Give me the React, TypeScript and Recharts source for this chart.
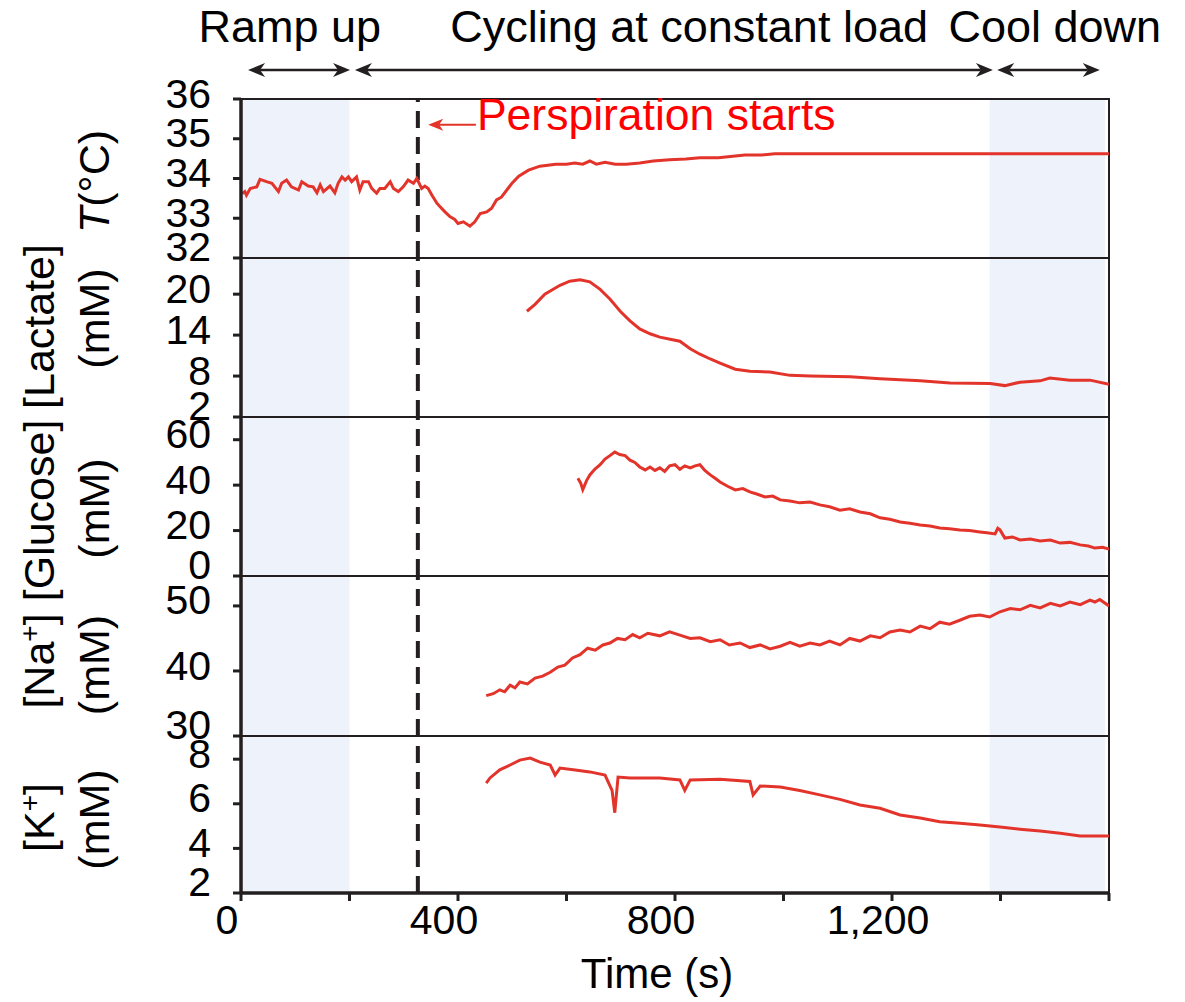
import React from 'react';
import { LineChart, Line, XAxis, YAxis, ReferenceArea, ReferenceLine } from 'recharts';

// ---------- data ----------
const tempTime = [2, 7, 10, 17, 29, 35, 47, 57, 69, 75, 84, 93, 106, 112, 124, 133, 140, 146, 152, 164, 173, 179, 186, 192, 198, 204, 213, 219, 225, 235, 241, 250, 256, 265, 275, 281, 290, 299, 308, 318, 324, 333, 339, 345, 352, 361, 367, 376, 385, 394, 400, 410, 422, 431, 441, 453, 462, 471, 480, 490, 500, 512, 530, 551, 580, 600, 615, 630, 643, 655, 671, 690, 710, 735, 760, 790, 820, 846, 880, 929, 960, 984, 1100, 1300, 1500, 1600];
const tempValue = [33.62, 33.67, 33.58, 33.75, 33.79, 33.98, 33.92, 33.88, 33.67, 33.88, 33.96, 33.79, 33.71, 33.92, 33.81, 33.79, 33.64, 33.84, 33.67, 33.81, 33.64, 33.88, 34.04, 33.96, 34.04, 33.92, 34.04, 33.71, 33.92, 33.92, 33.75, 33.63, 33.75, 33.75, 33.92, 33.75, 33.67, 33.79, 33.96, 33.88, 34.0, 33.75, 33.81, 33.75, 33.58, 33.38, 33.29, 33.16, 33.04, 32.97, 32.87, 32.91, 32.8, 32.91, 33.12, 33.16, 33.25, 33.46, 33.53, 33.71, 33.89, 34.06, 34.21, 34.31, 34.36, 34.36, 34.39, 34.36, 34.44, 34.36, 34.41, 34.36, 34.36, 34.39, 34.44, 34.47, 34.49, 34.52, 34.52, 34.59, 34.59, 34.62, 34.62, 34.62, 34.62, 34.62];

const lactateTime = [527, 542, 560, 588, 606, 625, 643, 662, 680, 699, 717, 735, 754, 772, 791, 809, 828, 846, 865, 883, 911, 938, 975, 1012, 1049, 1123, 1178, 1252, 1307, 1381, 1408, 1436, 1473, 1491, 1528, 1565, 1600];
const lactateValue = [17.5, 18.5, 20, 21.3, 21.9, 22.1, 21.8, 20.7, 19.3, 17.5, 16.1, 14.9, 14.2, 13.7, 13.4, 13.1, 12.0, 11.2, 10.5, 9.9, 9.0, 8.7, 8.6, 8.1, 8.0, 7.9, 7.6, 7.3, 7.0, 6.9, 6.6, 7.1, 7.3, 7.7, 7.4, 7.4, 6.8];

const glucoseTime = [621, 626, 630, 637, 643, 652, 662, 671, 680, 689, 698, 708, 717, 726, 735, 745, 754, 763, 772, 781, 790, 800, 809, 818, 828, 837, 846, 855, 865, 874, 883, 897, 911, 925, 938, 952, 966, 980, 994, 1012, 1030, 1049, 1067, 1085, 1104, 1122, 1141, 1160, 1178, 1196, 1215, 1233, 1252, 1270, 1288, 1306, 1325, 1343, 1362, 1375, 1390, 1395, 1399, 1408, 1422, 1436, 1455, 1473, 1492, 1510, 1528, 1547, 1562, 1574, 1588, 1600];
const glucoseValue = [43, 41, 38, 42, 44.5, 47, 49, 51.5, 53, 54.6, 53.5, 53, 51, 50, 48, 46.7, 48, 46.5, 47.6, 46, 48.5, 49, 47, 48.5, 47.6, 48.5, 49, 46.5, 44.5, 43, 41.4, 39.5, 37.9, 38.5, 37, 36, 34.8, 35.2, 33.5, 33, 32.2, 32.6, 31.3, 30.5, 29, 29.6, 28.2, 27.4, 25.6, 25, 23.8, 23.2, 22.5, 22.0, 21.1, 20.8, 20.3, 20.0, 19.4, 19.0, 18.5, 21, 20.3, 16.7, 17.2, 15.9, 16.3, 15.4, 15.8, 14.5, 14.8, 13.7, 13.2, 12.3, 12.6, 11.9];

const sodiumTime = [452, 465, 477, 486, 496, 505, 514, 528, 542, 556, 570, 584, 597, 611, 625, 639, 653, 667, 680, 694, 708, 722, 735, 750, 772, 790, 809, 828, 846, 865, 883, 900, 920, 938, 957, 975, 994, 1012, 1030, 1049, 1067, 1085, 1104, 1122, 1141, 1160, 1178, 1196, 1215, 1233, 1252, 1270, 1288, 1306, 1325, 1343, 1362, 1380, 1399, 1418, 1436, 1455, 1473, 1492, 1510, 1528, 1547, 1565, 1574, 1583, 1600];
const sodiumValue = [36.2, 36.5, 37.1, 36.8, 37.8, 37.4, 38.3, 38.0, 38.9, 39.2, 39.8, 40.6, 40.9, 42.0, 42.5, 43.5, 43.2, 44.0, 44.3, 45.0, 44.8, 45.6, 45.1, 45.8, 45.4, 46.0, 45.5, 45.0, 45.1, 44.5, 44.8, 44.0, 44.3, 43.6, 44.0, 43.4, 43.8, 44.4, 43.8, 44.3, 44.0, 44.6, 44.0, 45.0, 44.6, 45.4, 45.1, 46.0, 46.3, 46.0, 46.9, 46.5, 47.5, 47.2, 47.8, 48.4, 48.6, 48.3, 49.1, 49.6, 49.4, 50.1, 49.7, 50.4, 50.0, 50.6, 50.2, 50.9, 50.6, 51.0, 50.0];

const potassiumTime = [452, 459, 477, 496, 514, 533, 551, 570, 579, 588, 616, 643, 671, 684, 689, 695, 717, 772, 809, 818, 828, 883, 938, 944, 957, 994, 1030, 1067, 1104, 1141, 1178, 1215, 1252, 1288, 1325, 1362, 1399, 1436, 1473, 1510, 1547, 1600];
const potassiumValue = [6.93, 7.16, 7.52, 7.74, 7.96, 8.05, 7.87, 7.74, 7.29, 7.6, 7.52, 7.43, 7.29, 6.6, 5.6, 7.2, 7.16, 7.16, 7.07, 6.6, 7.07, 7.1, 7.0, 6.4, 6.8, 6.75, 6.6, 6.4, 6.2, 5.95, 5.8, 5.5, 5.36, 5.2, 5.13, 5.05, 4.96, 4.86, 4.78, 4.68, 4.56, 4.56];

const xTicks = [0, 200, 400, 600, 800, 1000, 1200, 1400, 1600];
const xTickLabels = [0, 400, 800, 1200];
const xDomain = [0, 1600];

const rampUpRange = [0, 200];
const coolDownRange = [1380, 1593];
const perspirationStart = 326;

const phaseNames = ['Ramp up', 'Cycling at constant load', 'Cool down'];
const phaseStart = [13, 210, 1394];
const phaseEnd = [201, 1386, 1583];
const phaseLabelAt = [90, 826, 1500];
const phaseArrowLevel = 36.73;

const perspirationLabel = 'Perspiration starts';
const perspirationArrow = [345, 433];
const perspirationLevel = 35.35;

const tempTicks = [32, 33, 34, 35, 36];
const lactateTicks = [2, 8, 14, 20];
const glucoseTicks = [0, 20, 40, 60];
const sodiumTicks = [30, 40, 50];
const potassiumTicks = [2, 4, 6, 8];

const zip = (t: number[], v: number[]) => t.map((x, i) => ({ t: x, v: v[i] }));

// ---------- style ----------
const FONT = '"Liberation Sans", Arial, Helvetica, sans-serif';
const RED = '#e3342b';
const INK = '#231f20';
const SHADE = '#eef2fa';
const WIDTH = 1169;
const MARGIN_RIGHT = 68;
const AXIS_W = 233;
const PLOT_W = WIDTH - MARGIN_RIGHT - AXIS_W;

type Panel = {
  key: string;
  data: { t: number; v: number }[];
  domain: [number, number];
  ticks: number[];
  height: number;
  top: number;
  lines: { node: React.ReactNode; col: number; off: number }[];
};

const panels: Panel[] = [
  {
    key: 'temp', data: zip(tempTime, tempValue), domain: [32, 36], ticks: tempTicks, height: 250, top: 91,
    lines: [{ node: <><tspan fontStyle="italic">T</tspan>(°C)</>, col: 1, off: 3 }],
  },
  {
    key: 'lac', data: zip(lactateTime, lactateValue), domain: [2, 25.3], ticks: lactateTicks, height: 159, top: 0,
    lines: [{ node: '[Lactate]', col: 0, off: -11 }, { node: '(mM)', col: 1, off: -19 }],
  },
  {
    key: 'glu', data: zip(glucoseTime, glucoseValue), domain: [0, 70], ticks: glucoseTicks, height: 159, top: 0,
    lines: [{ node: '[Glucose]', col: 0, off: 14 }, { node: '(mM)', col: 1, off: 12 }],
  },
  {
    key: 'na', data: zip(sodiumTime, sodiumValue), domain: [30, 54.6], ticks: sodiumTicks, height: 160, top: 0,
    lines: [{ node: <>[Na<tspan dy={-15} fontSize={28}>+</tspan><tspan dy={15}>]</tspan></>, col: 0, off: 5 }, { node: '(mM)', col: 1, off: 9 }],
  },
  {
    key: 'k', data: zip(potassiumTime, potassiumValue), domain: [2, 9.04], ticks: potassiumTicks, height: 266, top: 0,
    lines: [{ node: <>[K<tspan dy={-15} fontSize={28}>+</tspan><tspan dy={15}>]</tspan></>, col: 0, off: 3 }, { node: '(mM)', col: 1, off: 5 }],
  },
];

const COL_X = [46, 101];

const makeYTick = (min: number) => (p: any) => {
  const shift = p.payload.value === min ? -12 : -6;
  return (
    <text x={p.x} y={p.y + shift} dy="0.355em" textAnchor="end" fontSize={41} fontFamily={FONT} fill="#000">
      {p.payload.value}
    </text>
  );
};

const XTick = (p: any) => {
  if (!xTickLabels.includes(p.payload.value)) return <g />;
  return (
    <text x={p.x - 14} y={p.y} dy="0.71em" textAnchor="middle" fontSize={41} fontFamily={FONT} fill="#000">
      {Number(p.payload.value).toLocaleString('en-US')}
    </text>
  );
};

const makeYLabel = (panel: Panel) => (p: any) => {
  const vb = p.viewBox || { x: 0, y: 0, width: 0, height: 0 };
  const cyBase = vb.y + vb.height / 2;
  return (
    <g>
      {panel.lines.map((ln, i) => {
        const x = COL_X[ln.col];
        const y = cyBase + ln.off;
        return (
          <text key={i} x={x} y={y} transform={`rotate(-90, ${x}, ${y})`} textAnchor="middle" fontSize={43} fontFamily={FONT} fill="#000">
            {ln.node}
          </text>
        );
      })}
    </g>
  );
};

const xPix = (t: number) => AXIS_W + (t - xDomain[0]) / (xDomain[1] - xDomain[0]) * PLOT_W;

const PhaseArrow = (p: any) => {
  const { x1, x2, y1, text, labelX } = p;
  const y = y1;
  const L = 17, W = 7, N = 5;
  return (
    <g>
      <line x1={x1 + L - N} y1={y} x2={x2 - L + N} y2={y} stroke={INK} strokeWidth={2.5} />
      <path d={`M${x1},${y} L${x1 + L},${y - W} L${x1 + L - N},${y} L${x1 + L},${y + W} Z`} fill={INK} />
      <path d={`M${x2},${y} L${x2 - L},${y - W} L${x2 - L + N},${y} L${x2 - L},${y + W} Z`} fill={INK} />
      <text x={labelX} y={y - 28} textAnchor="middle" fontSize={45} fontFamily={FONT} fill="#000">{text}</text>
    </g>
  );
};

const PerspArrow = (p: any) => {
  const { x1, x2, y1 } = p;
  const y = y1;
  return (
    <g>
      <line x1={x1 + 10} y1={y} x2={x2} y2={y} stroke={RED} strokeWidth={2} />
      <path d={`M${x1},${y} L${x1 + 15},${y - 6} L${x1 + 11},${y} L${x1 + 15},${y + 6} Z`} fill={RED} />
      <text x={x2 + 1} y={y + 5} textAnchor="start" fontSize={44.5} fontFamily={FONT} fill="#ff0000">{perspirationLabel}</text>
    </g>
  );
};

const TimeLabel = (p: any) => {
  const vb = p.viewBox || { x: 0, y: 0, width: 0, height: 0 };
  return (
    <text x={vb.x + vb.width / 2 - 18} y={vb.y + 95} textAnchor="middle" fontSize={42} fontFamily={FONT} fill="#000">
      Time (s)
    </text>
  );
};

const PanelChart = ({ panel, index }: { panel: Panel; index: number }) => {
  const isFirst = index === 0;
  const isLast = index === panels.length - 1;
  return (
    <LineChart
      width={WIDTH}
      height={panel.height}
      data={panel.data}
      margin={{ top: panel.top, right: MARGIN_RIGHT, bottom: 0, left: 0 }}
    >
      <XAxis
        dataKey="t"
        type="number"
        domain={xDomain}
        ticks={xTicks}
        interval={0}
        allowDataOverflow
        hide={!isLast}
        height={isLast ? 109 : 0}
        axisLine={{ stroke: INK, strokeWidth: 3.5 }}
        tickLine={{ stroke: INK, strokeWidth: 3 }}
        tickSize={8}
        tickMargin={4}
        tick={XTick}
        label={isLast ? { content: TimeLabel } : undefined}
      />
      <YAxis
        type="number"
        domain={panel.domain}
        ticks={panel.ticks}
        interval={0}
        allowDataOverflow
        width={AXIS_W}
        axisLine={{ stroke: INK, strokeWidth: 3.5 }}
        tickLine={{ stroke: INK, strokeWidth: 3 }}
        tickSize={8}
        tickMargin={22}
        tick={makeYTick(panel.domain[0])}
        label={{ content: makeYLabel(panel) }}
      />
      <ReferenceArea x1={rampUpRange[0]} x2={rampUpRange[1]} y1={panel.domain[0]} y2={panel.domain[1]} fill={SHADE} fillOpacity={1} stroke="none" ifOverflow="hidden" />
      <ReferenceArea x1={coolDownRange[0]} x2={coolDownRange[1]} y1={panel.domain[0]} y2={panel.domain[1]} fill={SHADE} fillOpacity={1} stroke="none" ifOverflow="hidden" />
      <ReferenceArea x1={xDomain[0]} x2={xDomain[1]} y1={panel.domain[0]} y2={panel.domain[1]} fill="none" stroke={INK} strokeWidth={2} ifOverflow="visible" />
      <ReferenceLine x={perspirationStart} stroke={INK} strokeWidth={4} strokeDasharray="17 9" />
      {isFirst &&
        phaseNames.map((name, i) => (
          <ReferenceLine
            key={name}
            segment={[{ x: phaseStart[i], y: phaseArrowLevel }, { x: phaseEnd[i], y: phaseArrowLevel }]}
            ifOverflow="visible"
            shape={(p: any) => <PhaseArrow {...p} text={name} labelX={xPix(phaseLabelAt[i])} />}
          />
        ))}
      {isFirst && (
        <ReferenceLine
          segment={[{ x: perspirationArrow[0], y: perspirationLevel }, { x: perspirationArrow[1], y: perspirationLevel }]}
          ifOverflow="visible"
          shape={(p: any) => <PerspArrow {...p} />}
        />
      )}
      <Line type="linear" dataKey="v" stroke={RED} strokeWidth={3} dot={false} activeDot={false} isAnimationActive={false} />
    </LineChart>
  );
};

export default function App() {
  return (
    <div style={{ width: WIDTH, fontFamily: FONT }}>
      <style>{`html, body { overflow: hidden; } .recharts-surface { overflow: visible; }`}</style>
      {panels.map((p, i) => (
        <PanelChart key={p.key} panel={p} index={i} />
      ))}
    </div>
  );
}
